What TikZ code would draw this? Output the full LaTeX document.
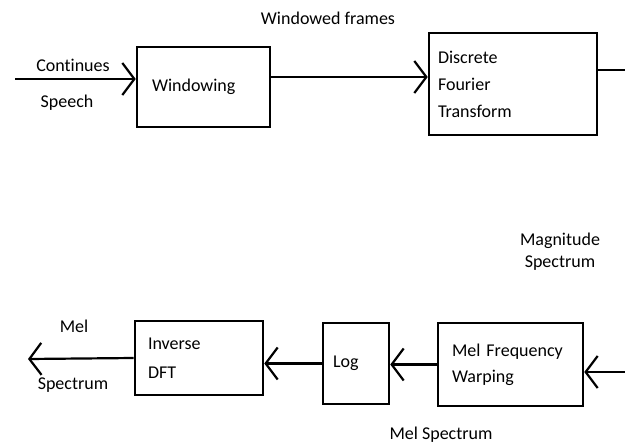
\documentclass[tikz,border=0pt]{standalone}
\usepackage{fontspec}
\setmainfont{Carlito}[Ligatures=NoCommon]
\usetikzlibrary{arrows.meta}

\tikzset{
  bloque/.style={draw, line width=2.6pt, align=left, inner ysep=0pt,
    font=\fontsize{18}{27}\selectfont},
  flecha/.style={line width=2.2pt, -{Straight Barb[length=12pt,width=32pt,line width=2.2pt]}},
  linea/.style={line width=2.2pt},
  etiqueta/.style={font=\fontsize{18}{22}\selectfont}
}

\begin{document}
\begin{tikzpicture}[x=1pt,y=-1pt] % 1 unidad = 1 pixel, y hacia abajo
    \useasboundingbox (0,0) rectangle (625,445);
    % Bloques de la fila superior
    \node[bloque, minimum width=133pt, minimum height=80pt, inner xsep=15pt,
      text width=103pt] (win) at (203.5,87) {Windowing};
    \node[bloque, minimum width=168pt, minimum height=102pt, inner xsep=9pt,
      text width=150pt] (dft) at (513,84) {Discrete\\Fourier\\Transform};
    % Bloques de la fila inferior
    \node[bloque, minimum width=145pt, minimum height=83pt, inner xsep=14pt,
      text width=117pt, font=\fontsize{18}{26}\selectfont] (mel) at (510.5,364.5)
      {Mel Frequency\\Warping};
    \node[bloque, minimum width=66pt, minimum height=81pt, inner xsep=10pt,
      text width=46pt] (log) at (356,363.5) {Log};
    \node[bloque, minimum width=128pt, minimum height=74pt, inner xsep=13pt,
      text width=102pt, font=\fontsize{18}{29}\selectfont] (idft) at (199,358)
      {Inverse\\DFT};
    % Extremos libres
    \coordinate (voz) at (15,79);
    \coordinate (wf) at ([yshift=10pt]win.east);
    \coordinate (dftout) at (625,70);
    \coordinate (melin) at (625,372);
    \coordinate (salida) at (28,359);
    % Conectores
    \draw[flecha] (voz) -- (voz -| win.west);
    \draw[flecha] (wf) -- (wf -| dft.west);
    \draw[linea] (dftout -| dft.east) -- (dftout);
    \draw[flecha] (melin) -- (melin -| mel.east);
    \draw[flecha] (mel.west) -- (mel.west -| log.east);
    \draw[flecha] (log.west) -- (log.west -| idft.east);
    \draw[flecha] (idft.west) -- (salida);
    % Etiquetas
    \node[etiqueta] (cont) at (73,65) {Continues};
    \node[etiqueta] (speech) at (67,103) {Speech};
    \node[etiqueta] (frames) at (328,18) {Windowed frames};
    \node[etiqueta, align=center] (mag) at (560,252) {Magnitude\\Spectrum};
    \node[etiqueta] (melspec) at (441,435) {Mel Spectrum};
    \node[etiqueta] (mel1) at (74,326) {Mel};
    \node[etiqueta] (spec1) at (73,385) {Spectrum};
\end{tikzpicture}
\end{document}
